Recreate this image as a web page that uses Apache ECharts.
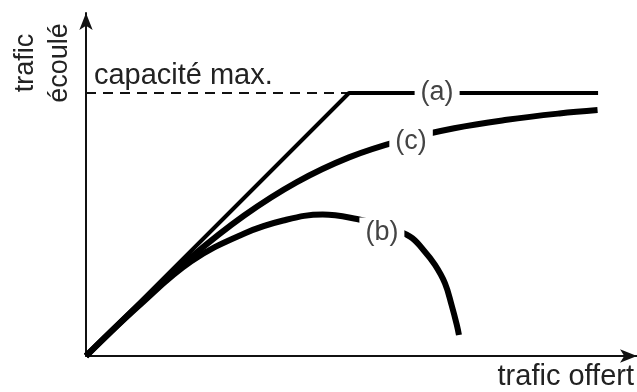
<!DOCTYPE html>
<html>
<head>
<meta charset="utf-8">
<script src="https://cdn.jsdelivr.net/npm/echarts@6/dist/echarts.min.js"></script>
<style>
  html, body { margin: 0; padding: 0; background: #fff; }
  #chart { width: 637px; height: 392px; }
</style>
</head>
<body>
<div id="chart"></div>
<script>
// unités : 1 = capacité max. (trafic écoulé), 1 = trafic offert au point de saturation
const capacity = 1;
const xMax = 2.095;
const yMax = 1.304;

// (a) idéal : droite puis plafond
const curveA_x = [0, 1, 1.947];
const curveA_y = [0, 1, 1];

// (c) saturation progressive
const curveC_x = [0, 0.2, 0.4, 0.6, 0.8, 1.0, 1.2, 1.4, 1.6, 1.8, 1.945];
const curveC_y = [0, 0.194, 0.376, 0.533, 0.66, 0.755, 0.82, 0.866, 0.898, 0.922, 0.935];

// (b) effondrement
const curveB_x = [0, 0.2, 0.4, 0.6, 0.75, 0.9, 1.03, 1.13, 1.232, 1.283, 1.327, 1.365, 1.39, 1.41, 1.418];
const curveB_y = [0, 0.19, 0.36, 0.465, 0.515, 0.538, 0.521, 0.495, 0.454, 0.403, 0.346, 0.276, 0.194, 0.118, 0.08];

// étiquettes des courbes
const labelNames = ["(a)", "(c)", "(b)"];
const labelX = [1.335, 1.236, 1.125];
const labelY = [1.0, 0.814, 0.471];

const capLabel = "capacité max.";
const capLabelPos = [0.03, 1.065];

const FONT = "'Liberation Sans', Arial, sans-serif";

function pairs(xs, ys) {
  return xs.map((x, i) => [x, ys[i]]);
}

const chart = echarts.init(document.getElementById("chart"));

chart.setOption({
  backgroundColor: "#fff",
  animation: false,
  grid: { left: 86, right: 0, top: 13, bottom: 36 },
  xAxis: {
    type: "value",
    min: 0,
    max: xMax,
    axisLine: {
      show: true,
      symbol: ["none", "arrow"],
      symbolSize: [10, 17],
      lineStyle: { color: "#111", width: 2 },
    },
    axisTick: { show: false },
    axisLabel: { show: false },
    splitLine: { show: false },
  },
  yAxis: {
    type: "value",
    min: 0,
    max: yMax,
    axisLine: {
      show: true,
      symbol: ["none", "arrow"],
      symbolSize: [10, 17],
      lineStyle: { color: "#111", width: 2 },
    },
    axisTick: { show: false },
    axisLabel: { show: false },
    splitLine: { show: false },
  },
  graphic: [
    {
      type: "text",
      x: 634,
      y: 377,
      style: { text: "trafic offert", font: "29px " + FONT, fill: "#222", align: "right", verticalAlign: "middle" },
    },
    {
      type: "text",
      x: 43,
      y: 63,
      rotation: Math.PI / 2,
      style: {
        text: "trafic\nécoulé",
        font: "27px " + FONT,
        fill: "#222",
        align: "center",
        verticalAlign: "middle",
        lineHeight: 34,
      },
    },
  ],
  series: [
    {
      // capacité max. en pointillés
      type: "line",
      data: [[0, capacity], [1, capacity]],
      symbol: "none",
      lineStyle: { color: "#111", width: 2, type: [10, 7] },
      z: 1,
    },
    {
      type: "line",
      data: pairs(curveA_x, curveA_y),
      symbol: "none",
      lineStyle: { color: "#000", width: 4 },
      z: 3,
    },
    {
      type: "line",
      data: pairs(curveC_x, curveC_y),
      symbol: "none",
      smooth: 0.4,
      lineStyle: { color: "#000", width: 6 },
      z: 2,
    },
    {
      type: "line",
      data: pairs(curveB_x, curveB_y),
      symbol: "none",
      smooth: 0.4,
      lineStyle: { color: "#000", width: 6 },
      z: 2,
    },
    {
      type: "scatter",
      symbolSize: 0,
      z: 10,
      itemStyle: { opacity: 1 },
      data: labelNames
        .map((n, i) => ({
          name: n,
          value: [labelX[i], labelY[i]],
          label: { backgroundColor: "#fff", padding: [1, 6] },
        }))
        .concat([
          {
            name: capLabel,
            value: capLabelPos,
            label: { align: "left", color: "#222", fontSize: 29 },
          },
        ]),
      label: {
        show: true,
        position: "inside",
        formatter: (p) => p.name,
        fontFamily: FONT,
        fontSize: 27,
        color: "#444",
        align: "center",
        verticalAlign: "middle",
      },
      emphasis: { disabled: true },
    },
  ],
});
</script>
</body>
</html>
